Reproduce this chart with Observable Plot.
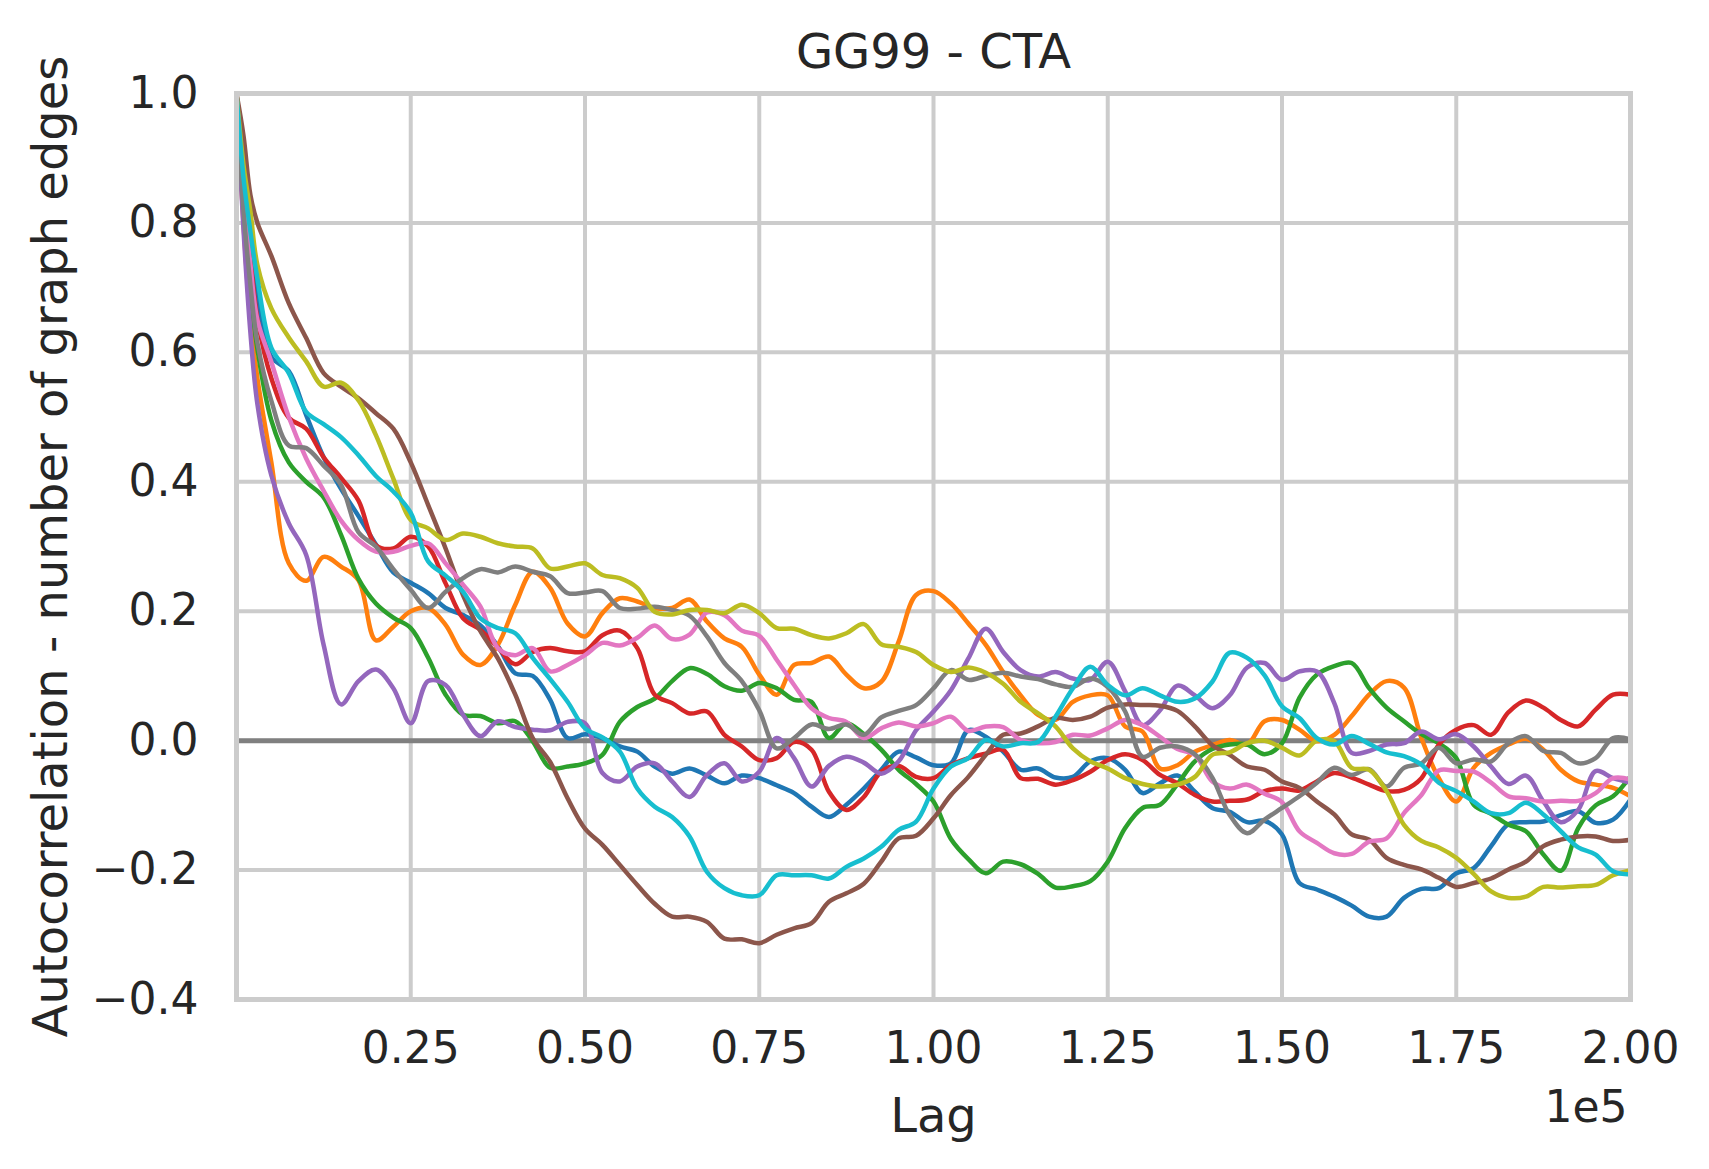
<!DOCTYPE html>
<html>
<head>
<meta charset="utf-8">
<script src="https://cdn.jsdelivr.net/npm/d3@7"></script>
<script src="https://cdn.jsdelivr.net/npm/@observablehq/plot@0.6"></script>
<style>
  html, body { margin: 0; padding: 0; background: #ffffff; }
  #chart svg { display: block; }
</style>
</head>
<body>
<div id="chart"></div>
<script>
// Lag values, in units of 1e5
const lags = [
  0, 0.01, 0.02, 0.03, 0.05,
  0.075, 0.1, 0.125, 0.15, 0.175, 0.2, 0.225, 0.25, 0.275, 0.3,
  0.325, 0.35, 0.375, 0.4, 0.425, 0.45, 0.475, 0.5, 0.525, 0.55,
  0.575, 0.6, 0.625, 0.65, 0.675, 0.7, 0.725, 0.75, 0.775, 0.8,
  0.825, 0.85, 0.875, 0.9, 0.925, 0.95, 0.975, 1.0, 1.025, 1.05,
  1.075, 1.1, 1.125, 1.15, 1.175, 1.2, 1.225, 1.25, 1.275, 1.3,
  1.325, 1.35, 1.375, 1.4, 1.425, 1.45, 1.475, 1.5, 1.525, 1.55,
  1.575, 1.6, 1.625, 1.65, 1.675, 1.7, 1.725, 1.75, 1.775, 1.8,
  1.825, 1.85, 1.875, 1.9, 1.925, 1.95, 1.975, 2.0
];

const blue = [
  1, 0.86, 0.755, 0.683, 0.593,
  0.571, 0.503, 0.438, 0.389, 0.347, 0.303, 0.26, 0.244, 0.228, 0.205,
  0.194, 0.178, 0.146, 0.104, 0.1, 0.063, 0.004, 0.01, 0.004, -0.009,
  -0.017, -0.04, -0.051, -0.043, -0.054, -0.066, -0.054, -0.058, -0.069, -0.081,
  -0.102, -0.118, -0.099, -0.074, -0.045, -0.017, -0.026, -0.038, -0.035, 0.016,
  0.006, -0.017, -0.045, -0.043, -0.057, -0.056, -0.032, -0.027, -0.045, -0.081,
  -0.066, -0.054, -0.079, -0.104, -0.11, -0.126, -0.124, -0.145, -0.22, -0.23,
  -0.241, -0.255, -0.272, -0.272, -0.243, -0.229, -0.228, -0.205, -0.197, -0.163,
  -0.129, -0.126, -0.125, -0.115, -0.109, -0.127, -0.122, -0.091
];
const orange = [
  1, 0.80, 0.65, 0.56, 0.43,
  0.274, 0.247, 0.284, 0.269, 0.248, 0.155, 0.176, 0.2, 0.205, 0.179,
  0.133, 0.117, 0.148, 0.21, 0.261, 0.236, 0.181, 0.161, 0.197, 0.22,
  0.215, 0.205, 0.205, 0.218, 0.184, 0.158, 0.145, 0.102, 0.071, 0.117,
  0.12, 0.13, 0.102, 0.081, 0.091, 0.153, 0.225, 0.231, 0.212, 0.181,
  0.148, 0.106, 0.07, 0.04, 0.032, 0.06, 0.07, 0.07, 0.022, 0.014,
  -0.043, -0.038, -0.017, -0.007, 0.001, -0.006, 0.03, 0.032, 0.017, -0.001,
  0.009, 0.038, 0.071, 0.092, 0.082, 0.004, -0.058, -0.094, -0.042, -0.019,
  -0.006, 0.003, -0.014, -0.045, -0.063, -0.068, -0.073, -0.086
];
const green = [
  1, 0.82, 0.694, 0.605, 0.495,
  0.43, 0.4, 0.376, 0.318, 0.25, 0.212, 0.19, 0.174, 0.128, 0.071,
  0.04, 0.038, 0.027, 0.03, -0.001, -0.042, -0.04, -0.035, -0.022, 0.029,
  0.052, 0.065, 0.092, 0.112, 0.103, 0.084, 0.077, 0.089, 0.081, 0.063,
  0.06, 0.004, 0.027, 0.01, -0.014, -0.045, -0.067, -0.094, -0.152, -0.183,
  -0.205, -0.187, -0.191, -0.206, -0.227, -0.225, -0.217, -0.187, -0.135, -0.104,
  -0.099, -0.067, -0.032, -0.013, -0.006, -0.006, -0.021, -0.004, 0.066, 0.102,
  0.115, 0.12, 0.081, 0.051, 0.03, 0.01, -0.004, -0.027, -0.099, -0.113,
  -0.13, -0.14, -0.176, -0.201, -0.135, -0.1, -0.086, -0.055
];
const red = [
  1, 0.85, 0.745, 0.652, 0.56,
  0.499, 0.482, 0.438, 0.406, 0.371, 0.302, 0.297, 0.315, 0.3, 0.243,
  0.189, 0.171, 0.144, 0.118, 0.137, 0.143, 0.138, 0.138, 0.163, 0.17,
  0.143, 0.071, 0.058, 0.042, 0.045, 0.009, -0.009, -0.03, -0.027, -0.002,
  -0.014, -0.079, -0.107, -0.087, -0.048, -0.039, -0.056, -0.058, -0.038, -0.027,
  -0.02, -0.014, -0.058, -0.059, -0.068, -0.061, -0.048, -0.03, -0.021, -0.03,
  -0.053, -0.066, -0.084, -0.094, -0.093, -0.091, -0.078, -0.074, -0.077, -0.063,
  -0.05, -0.057, -0.068, -0.078, -0.076, -0.058, -0.006, 0.017, 0.024, 0.009,
  0.044, 0.062, 0.051, 0.032, 0.022, 0.048, 0.071, 0.071
];
const purple = [
  1, 0.79, 0.63, 0.52, 0.41,
  0.336, 0.287, 0.148, 0.056, 0.092, 0.11, 0.081, 0.027, 0.092, 0.086,
  0.04, 0.007, 0.03, 0.021, 0.017, 0.016, 0.029, 0.027, -0.05, -0.063,
  -0.04, -0.035, -0.063, -0.087, -0.053, -0.035, -0.063, -0.048, 0.004, -0.027,
  -0.071, -0.039, -0.025, -0.034, -0.051, -0.032, 0.016, 0.045, 0.078, 0.127,
  0.173, 0.137, 0.109, 0.099, 0.106, 0.096, 0.094, 0.122, 0.076, 0.024,
  0.047, 0.085, 0.07, 0.05, 0.07, 0.113, 0.12, 0.094, 0.107, 0.107,
  0.058, -0.019, -0.016, -0.006, -0.004, 0.014, 0.002, 0.01, -0.009, -0.04,
  -0.067, -0.054, -0.094, -0.126, -0.107, -0.047, -0.058, -0.065
];
const brown = [
  1, 0.935, 0.843, 0.80, 0.749,
  0.676, 0.622, 0.568, 0.547, 0.529, 0.506, 0.482, 0.43, 0.364, 0.297,
  0.225, 0.169, 0.127, 0.071, 0.004, -0.033, -0.089, -0.136, -0.161, -0.192,
  -0.223, -0.252, -0.272, -0.272, -0.28, -0.306, -0.307, -0.313, -0.30, -0.29,
  -0.282, -0.249, -0.236, -0.221, -0.187, -0.151, -0.147, -0.12, -0.084, -0.056,
  -0.022, 0.009, 0.011, 0.022, 0.035, 0.032, 0.037, 0.051, 0.056, 0.055,
  0.054, 0.046, 0.022, -0.007, -0.022, -0.04, -0.045, -0.063, -0.073, -0.094,
  -0.114, -0.145, -0.153, -0.181, -0.192, -0.199, -0.212, -0.226, -0.22, -0.213,
  -0.199, -0.187, -0.163, -0.153, -0.148, -0.148, -0.155, -0.153
];
const pink = [
  1, 0.85, 0.735, 0.65, 0.585,
  0.5, 0.436, 0.386, 0.34, 0.31, 0.292, 0.292, 0.301, 0.305, 0.274,
  0.241, 0.207, 0.143, 0.132, 0.143, 0.107, 0.117, 0.132, 0.151, 0.147,
  0.159, 0.178, 0.157, 0.164, 0.198, 0.194, 0.17, 0.162, 0.125, 0.086,
  0.05, 0.035, 0.029, 0.004, 0.019, 0.028, 0.022, 0.027, 0.037, 0.015,
  0.022, 0.021, 0.001, -0.004, -0.002, 0.009, 0.008, 0.019, 0.032, 0.024,
  0.006, -0.013, -0.022, -0.063, -0.074, -0.068, -0.082, -0.095, -0.14, -0.158,
  -0.174, -0.175, -0.156, -0.151, -0.112, -0.084, -0.046, -0.047, -0.048, -0.065,
  -0.086, -0.089, -0.094, -0.093, -0.093, -0.081, -0.058, -0.06
];
const gray = [
  1, 0.82, 0.704, 0.615, 0.525,
  0.456, 0.452, 0.425, 0.395, 0.322, 0.3, 0.265, 0.233, 0.205, 0.23,
  0.251, 0.265, 0.26, 0.269, 0.261, 0.254, 0.228, 0.229, 0.231, 0.205,
  0.204, 0.207, 0.202, 0.193, 0.161, 0.12, 0.092, 0.047, -0.012, 0.004,
  0.025, 0.018, 0.025, 0.009, 0.036, 0.046, 0.055, 0.081, 0.109, 0.094,
  0.1, 0.105, 0.099, 0.095, 0.087, 0.083, 0.096, 0.083, 0.045, -0.025,
  -0.011, -0.009, -0.021, -0.057, -0.115, -0.143, -0.122, -0.104, -0.086, -0.065,
  -0.042, -0.053, -0.044, -0.071, -0.042, -0.035, -0.011, -0.035, -0.029, -0.032,
  -0.004, 0.007, -0.016, -0.019, -0.035, -0.027, 0.004, 0.002
];
const olive = [
  1, 0.89, 0.817, 0.735, 0.668,
  0.623, 0.586, 0.547, 0.553, 0.526, 0.472, 0.405, 0.341, 0.328, 0.31,
  0.32, 0.315, 0.305, 0.30, 0.297, 0.266, 0.269, 0.274, 0.256, 0.251,
  0.236, 0.199, 0.195, 0.202, 0.202, 0.197, 0.21, 0.197, 0.174, 0.173,
  0.163, 0.158, 0.166, 0.18, 0.149, 0.145, 0.137, 0.117, 0.106, 0.113,
  0.105, 0.088, 0.06, 0.042, 0.022, -0.012, -0.032, -0.043, -0.058, -0.067,
  -0.071, -0.068, -0.056, -0.022, -0.018, -0.004, 0, -0.011, -0.023, 0,
  -0.001, -0.042, -0.045, -0.078, -0.13, -0.155, -0.165, -0.181, -0.206, -0.233,
  -0.243, -0.241, -0.226, -0.227, -0.225, -0.223, -0.208, -0.2
];
const cyan = [
  1, 0.87, 0.786, 0.714, 0.607,
  0.568, 0.508, 0.489, 0.469, 0.441, 0.409, 0.385, 0.352, 0.277, 0.255,
  0.23, 0.189, 0.174, 0.166, 0.128, 0.095, 0.06, 0.019, 0.005, -0.017,
  -0.074, -0.102, -0.118, -0.148, -0.203, -0.228, -0.239, -0.239, -0.208, -0.208,
  -0.208, -0.213, -0.195, -0.182, -0.164, -0.138, -0.125, -0.074, -0.04, -0.027,
  0.001, -0.009, -0.004, -0.002, 0.037, 0.081, 0.114, 0.086, 0.07, 0.081,
  0.07, 0.06, 0.065, 0.091, 0.136, 0.128, 0.101, 0.053, 0.035, 0.004,
  -0.006, 0.007, -0.005, -0.018, -0.024, -0.037, -0.065, -0.078, -0.094, -0.112,
  -0.112, -0.096, -0.114, -0.14, -0.165, -0.176, -0.202, -0.207
];

const seriesNames = ["s0", "s1", "s2", "s3", "s4", "s5", "s6", "s7", "s8", "s9"];
const seriesValues = [blue, orange, green, red, purple, brown, pink, gray, olive, cyan];
const seriesColors = ["#1f77b4", "#ff7f0e", "#2ca02c", "#d62728", "#9467bd",
                      "#8c564b", "#e377c2", "#7f7f7f", "#bcbd22", "#17becf"];

const xTicks = [0.25, 0.5, 0.75, 1.0, 1.25, 1.5, 1.75, 2.0];
const yTicks = [-0.4, -0.2, 0, 0.2, 0.4, 0.6, 0.8, 1.0];
const titleText = "GG99 - CTA";
const xLabel = "Lag";
const yLabel = "Autocorrelation - number of graph edges";
const offsetText = "1e5";

const rows = [];
let mismatch = [];
seriesValues.forEach((vals, k) => {
  if (vals.length !== lags.length) mismatch.push(seriesNames[k] + ":" + vals.length);
  const n = Math.min(vals.length, lags.length);
  for (let i = 0; i < n; i++) rows.push({lag: lags[i] * 1e5, value: vals[i], name: seriesNames[k]});
});

const fmtY = d => {
  const s = Math.abs(d).toFixed(1);
  return d < -1e-9 ? "\u2212" + s : s;
};

const chart = Plot.plot({
  width: 1709,
  height: 1169,
  marginLeft: 236,
  marginRight: 79,
  marginTop: 93,
  marginBottom: 170,
  style: {fontFamily: "'DejaVu Sans', sans-serif", fontSize: "44px", color: "#262626", background: "#ffffff"},
  x: {domain: [0, 200000], label: null},
  y: {domain: [-0.4, 1.0], label: null},
  color: {domain: seriesNames, range: seriesColors},
  marks: [
    Plot.gridX(xTicks.map(t => t * 1e5), {stroke: "#cccccc", strokeOpacity: 1, strokeWidth: 4}),
    Plot.gridY(yTicks, {stroke: "#cccccc", strokeOpacity: 1, strokeWidth: 4}),
    Plot.axisX(xTicks.map(t => t * 1e5), {tickSize: 0, tickPadding: 32, tickFormat: d => (d / 1e5).toFixed(2), fontSize: 44, fill: "#262626", label: null}),
    Plot.axisY(yTicks, {tickSize: 0, tickPadding: 38, tickFormat: fmtY, fontSize: 44, fill: "#262626", label: null}),
    Plot.ruleY([0], {stroke: "#808080", strokeWidth: 5}),
    Plot.line(rows, {x: "lag", y: "value", z: "name", stroke: "name", strokeWidth: 4.5, curve: "catmull-rom", strokeLinejoin: "round", strokeLinecap: "butt"}),
    Plot.frame({stroke: "#cccccc", strokeWidth: 5}),
    Plot.text([mismatch.length ? titleText + " [" + mismatch.join(",") + "]" : titleText],
      {text: d => d, frameAnchor: "top", textAnchor: "middle", dy: -41, fontSize: 48, fill: "#262626", lineAnchor: "middle"}),
    Plot.text([xLabel], {text: d => d, frameAnchor: "bottom", textAnchor: "middle", dy: 117, fontSize: 48, fill: "#262626", lineAnchor: "middle"}),
    Plot.text([offsetText], {text: d => d, frameAnchor: "bottom-right", textAnchor: "end", dx: -3, dy: 108, fontSize: 44, fill: "#262626", lineAnchor: "middle"}),
    Plot.text([yLabel], {text: d => d, frameAnchor: "left", textAnchor: "middle", rotate: -90, dx: -185, fontSize: 48, fill: "#262626", lineAnchor: "middle"})
  ]
});
document.getElementById("chart").appendChild(chart);
</script>
</body>
</html>
